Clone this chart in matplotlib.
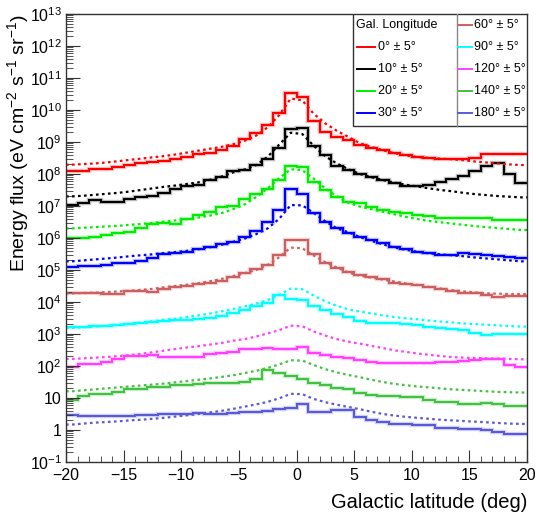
import numpy as np
import matplotlib
matplotlib.use('Agg')
import matplotlib.pyplot as plt
from matplotlib.ticker import LogLocator, MultipleLocator, FixedLocator, FixedFormatter, NullFormatter
from matplotlib.patches import Rectangle

plt.rcParams['font.family'] = ['Liberation Sans', 'DejaVu Sans']

# latitude bins, 1 deg wide
edges = np.arange(-20, 21, 1)
centers = edges[:-1] + 0.5

# log10 of the energy flux per bin, data (obs) and model (mod)
obs_0 = [8.10, 8.10, 8.15, 8.15, 8.21, 8.28, 8.33, 8.37, 8.42, 8.46, 8.54, 8.63, 8.67, 8.75, 8.87, 9.08, 9.27, 9.53, 9.90, 10.52,
         10.40, 9.66, 9.32, 9.17, 9.06, 8.91, 8.80, 8.75, 8.65, 8.59, 8.54, 8.49, 8.47, 8.46, 8.46, 8.50, 8.62, 8.62, 8.62, 8.62]
mod_0 = [8.29, 8.31, 8.33, 8.36, 8.40, 8.44, 8.48, 8.52, 8.56, 8.61, 8.67, 8.73, 8.79, 8.85, 8.93, 9.04, 9.20, 9.46, 9.84, 10.36,
         10.30, 9.88, 9.58, 9.35, 9.16, 8.96, 8.85, 8.74, 8.65, 8.58, 8.53, 8.50, 8.48, 8.46, 8.43, 8.39, 8.36, 8.33, 8.30, 8.28]

obs_10 = [7.03, 7.09, 7.19, 7.14, 7.14, 7.22, 7.27, 7.31, 7.42, 7.53, 7.61, 7.66, 7.80, 7.91, 8.09, 8.12, 8.28, 8.47, 8.80, 9.41,
          9.45, 8.89, 8.59, 8.25, 8.12, 8.00, 7.92, 7.81, 7.71, 7.62, 7.61, 7.67, 7.76, 7.85, 7.95, 8.10, 8.25, 8.33, 8.00, 7.71]
mod_10 = [7.30, 7.32, 7.35, 7.38, 7.41, 7.45, 7.50, 7.55, 7.60, 7.64, 7.69, 7.74, 7.82, 7.92, 8.05, 8.14, 8.28, 8.54, 8.92, 9.29,
          9.25, 8.88, 8.55, 8.33, 8.15, 8.00, 7.90, 7.81, 7.73, 7.66, 7.61, 7.55, 7.50, 7.46, 7.41, 7.37, 7.34, 7.31, 7.29, 7.27]

obs_20 = [5.99, 5.99, 6.04, 6.09, 6.17, 6.20, 6.30, 6.44, 6.48, 6.44, 6.58, 6.72, 6.80, 6.98, 7.00, 7.21, 7.38, 7.52, 7.80, 8.24,
          8.23, 7.75, 7.50, 7.27, 7.12, 7.08, 6.98, 6.88, 6.81, 6.77, 6.72, 6.69, 6.62, 6.62, 6.62, 6.63, 6.64, 6.56, 6.56, 6.56]
mod_20 = [6.30, 6.32, 6.34, 6.36, 6.38, 6.41, 6.44, 6.47, 6.51, 6.55, 6.59, 6.64, 6.70, 6.78, 6.90, 7.05, 7.28, 7.55, 7.87, 8.15,
          8.12, 7.85, 7.55, 7.30, 7.10, 6.98, 6.90, 6.82, 6.74, 6.66, 6.59, 6.53, 6.49, 6.45, 6.41, 6.37, 6.34, 6.31, 6.28, 6.25]

obs_30 = [5.08, 5.13, 5.13, 5.16, 5.21, 5.22, 5.28, 5.37, 5.50, 5.53, 5.57, 5.66, 5.73, 5.80, 5.88, 6.04, 6.22, 6.51, 6.88, 7.53,
          7.37, 6.77, 6.50, 6.30, 6.17, 6.04, 5.94, 5.83, 5.73, 5.66, 5.57, 5.53, 5.48, 5.47, 5.52, 5.50, 5.46, 5.43, 5.42, 5.39]
mod_30 = [5.27, 5.30, 5.33, 5.36, 5.39, 5.43, 5.46, 5.49, 5.53, 5.56, 5.60, 5.65, 5.71, 5.79, 5.88, 5.98, 6.12, 6.30, 6.60, 7.03,
          7.02, 6.78, 6.52, 6.30, 6.18, 6.03, 5.91, 5.80, 5.70, 5.63, 5.57, 5.52, 5.49, 5.46, 5.43, 5.39, 5.36, 5.33, 5.30, 5.27]

obs_60 = [4.29, 4.29, 4.29, 4.24, 4.24, 4.35, 4.35, 4.32, 4.40, 4.46, 4.50, 4.56, 4.58, 4.67, 4.78, 4.90, 5.02, 5.17, 5.46, 5.94,
          5.94, 5.51, 5.22, 5.06, 4.93, 4.84, 4.79, 4.71, 4.60, 4.56, 4.53, 4.48, 4.40, 4.35, 4.29, 4.27, 4.22, 4.17, 4.19, 4.19]
mod_60 = [4.27, 4.28, 4.29, 4.31, 4.33, 4.35, 4.38, 4.41, 4.46, 4.50, 4.54, 4.59, 4.65, 4.72, 4.81, 4.90, 5.00, 5.16, 5.40, 5.70,
          5.68, 5.45, 5.24, 5.08, 4.92, 4.82, 4.76, 4.70, 4.64, 4.58, 4.53, 4.47, 4.42, 4.37, 4.33, 4.30, 4.27, 4.26, 4.25, 4.25]

obs_90 = [3.21, 3.21, 3.24, 3.26, 3.29, 3.31, 3.34, 3.38, 3.42, 3.44, 3.44, 3.48, 3.50, 3.56, 3.65, 3.76, 3.88, 3.97, 4.22, 4.09,
          4.07, 3.88, 3.74, 3.61, 3.52, 3.42, 3.34, 3.33, 3.33, 3.31, 3.28, 3.23, 3.18, 3.15, 3.12, 3.03, 2.98, 2.99, 2.99, 2.99]
mod_90 = [3.19, 3.21, 3.23, 3.26, 3.29, 3.32, 3.36, 3.40, 3.44, 3.48, 3.53, 3.58, 3.64, 3.71, 3.78, 3.86, 3.95, 4.06, 4.22, 4.42,
          4.40, 4.20, 4.02, 3.88, 3.77, 3.70, 3.64, 3.58, 3.53, 3.49, 3.46, 3.42, 3.39, 3.36, 3.33, 3.31, 3.29, 3.27, 3.25, 3.23]

obs_120 = [1.96, 2.05, 2.05, 2.13, 2.21, 2.31, 2.31, 2.34, 2.27, 2.27, 2.29, 2.29, 2.37, 2.42, 2.45, 2.52, 2.52, 2.55, 2.54, 2.54,
           2.58, 2.41, 2.34, 2.28, 2.24, 2.19, 2.13, 2.08, 2.08, 2.08, 2.08, 2.08, 2.12, 2.14, 2.17, 2.20, 2.21, 2.21, 2.04, 1.98]
mod_120 = [2.22, 2.24, 2.26, 2.28, 2.31, 2.34, 2.38, 2.43, 2.48, 2.53, 2.58, 2.62, 2.67, 2.72, 2.79, 2.84, 2.92, 3.02, 3.12, 3.26,
           3.24, 3.08, 2.95, 2.84, 2.76, 2.70, 2.63, 2.56, 2.49, 2.44, 2.39, 2.35, 2.31, 2.28, 2.26, 2.25, 2.24, 2.23, 2.22, 2.21]

obs_140 = [0.94, 1.06, 1.13, 1.13, 1.20, 1.27, 1.27, 1.33, 1.35, 1.41, 1.41, 1.44, 1.46, 1.46, 1.48, 1.51, 1.60, 1.89, 1.79, 1.69,
           1.58, 1.48, 1.41, 1.30, 1.28, 1.17, 1.09, 1.06, 1.06, 1.04, 1.04, 0.94, 0.89, 0.89, 0.81, 0.81, 0.83, 0.81, 0.75, 0.75]
mod_140 = [1.21, 1.24, 1.27, 1.30, 1.33, 1.36, 1.39, 1.42, 1.45, 1.49, 1.53, 1.57, 1.61, 1.66, 1.71, 1.78, 1.85, 1.94, 2.05, 2.18,
           2.17, 2.03, 1.90, 1.80, 1.72, 1.65, 1.57, 1.50, 1.44, 1.40, 1.36, 1.33, 1.30, 1.27, 1.25, 1.23, 1.21, 1.19, 1.18, 1.17]

obs_180 = [0.47, 0.44, 0.44, 0.44, 0.44, 0.44, 0.47, 0.47, 0.50, 0.50, 0.50, 0.54, 0.50, 0.51, 0.52, 0.57, 0.57, 0.59, 0.65, 0.68,
           0.81, 0.55, 0.56, 0.63, 0.64, 0.40, 0.31, 0.26, 0.19, 0.19, 0.16, 0.16, 0.05, 0.05, 0.02, 0.02, 0.00, -0.05, -0.12, -0.12]
mod_180 = [0.17, 0.20, 0.23, 0.25, 0.27, 0.30, 0.32, 0.35, 0.38, 0.42, 0.46, 0.50, 0.55, 0.60, 0.66, 0.73, 0.80, 0.88, 0.99, 1.13,
           1.12, 0.97, 0.87, 0.79, 0.72, 0.65, 0.57, 0.50, 0.45, 0.41, 0.38, 0.35, 0.32, 0.30, 0.28, 0.26, 0.24, 0.22, 0.20, 0.19]

longitudes = [0, 10, 20, 30, 60, 90, 120, 140, 180]
colors = ['#ff0000', '#000000', '#00ee00', '#0000ff', '#cc6060', '#00ffff', '#ff40ff', '#44c044', '#5a5ad8']
obs = [obs_0, obs_10, obs_20, obs_30, obs_60, obs_90, obs_120, obs_140, obs_180]
mod = [mod_0, mod_10, mod_20, mod_30, mod_60, mod_90, mod_120, mod_140, mod_180]

fig = plt.figure(figsize=(5.36, 5.15), dpi=100)
ax = fig.add_axes([66/536, 1 - 462/515, 461/536, 448/515])

xm = np.concatenate(([edges[0]], centers, [edges[-1]]))
for o, m, c in zip(obs, mod, colors):
    h = 10**np.array(o)
    ax.stairs(h, edges, color=c, lw=3.2, alpha=0.25, baseline=None)
    ax.stairs(h, edges, color=c, lw=1.5, baseline=None)
    ym = 10**np.concatenate(([m[0]], m, [m[-1]]))
    ax.plot(xm, ym, color=c, lw=1.6, dashes=(1.2, 1.5))

ax.set_xlim(-20, 20)
ax.set_yscale('log')
ax.set_ylim(1e-1, 1e13)

ax.xaxis.set_major_locator(MultipleLocator(5))
ax.xaxis.set_minor_locator(MultipleLocator(1))
decades = np.arange(-1, 14)
ylabels = []
for k in decades:
    if k == 0:
        ylabels.append('1')
    elif k == 1:
        ylabels.append('10')
    else:
        ylabels.append(r'$\mathregular{10^{%d}}$' % k)
ax.yaxis.set_major_locator(FixedLocator(10.0**decades))
ax.yaxis.set_major_formatter(FixedFormatter(ylabels))
ax.yaxis.set_minor_locator(LogLocator(base=10, subs=np.arange(2, 10), numticks=30))
ax.yaxis.set_minor_formatter(NullFormatter())

ax.tick_params(which='both', direction='in', top=False, right=False, labelsize=11.5, color='#333333')
ax.tick_params(axis='x', which='major', length=9, pad=4)
ax.tick_params(axis='x', which='minor', length=4.5)
ax.tick_params(axis='y', which='major', length=10, pad=3)
ax.tick_params(axis='y', which='minor', length=5)
for s in ax.spines.values():
    s.set_linewidth(1.0)
    s.set_color('#333333')

ax.set_xlabel('Galactic latitude (deg)', fontsize=14.5, loc='right')
ax.xaxis.set_label_coords(1.0, -0.070)
ax.xaxis.label.set_va('top')
ax.set_ylabel(r'Energy flux (eV cm$\mathregular{^{-2}}$ s$\mathregular{^{-1}}$ sr$\mathregular{^{-1}}$)',
              fontsize=14, loc='top')
ax.yaxis.set_label_coords(-0.103, 1.0)
ax.yaxis.label.set_va('center')

# two-column legend box
lx0, lx1, lsep = 0.6226, 1.0, 0.8475
ly0, ly1 = 0.75, 1.0
ax.add_patch(Rectangle((lx0, ly0), lx1 - lx0, ly1 - ly0, transform=ax.transAxes,
                       facecolor='white', edgecolor='#333333', lw=1.0, zorder=5))
ax.plot([lsep, lsep], [ly0, ly1], transform=ax.transAxes, color='#888888', lw=1.0, zorder=6)
rows = [0.9754, 0.9268, 0.8766, 0.8288, 0.7783]
ax.text(0.629, rows[0], 'Gal. Longitude', transform=ax.transAxes, fontsize=9, va='center', zorder=7)
slots = [(0.6306, 0.6703, 0.677, r) for r in rows[1:]] + [(0.8503, 0.8807, 0.884, r) for r in rows]
for (a, b, t, r), lon, c in zip(slots, longitudes, colors):
    ax.plot([a, b], [r, r], transform=ax.transAxes, color=c, lw=1.4, zorder=7)
    ax.text(t, r, '%d\u00b0 \u00b1 5\u00b0' % lon, transform=ax.transAxes, fontsize=9, va='center', zorder=7)

fig.savefig('out.png', dpi=100)
